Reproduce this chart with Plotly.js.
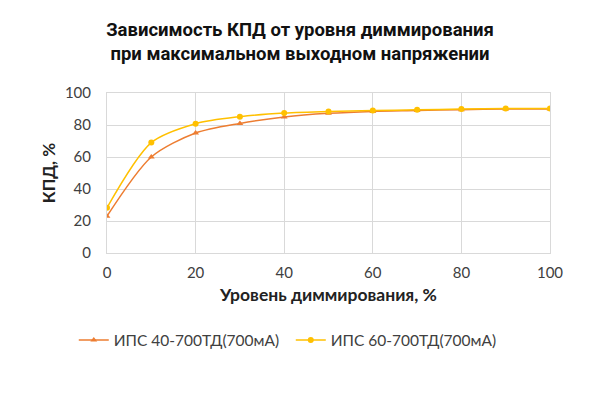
<!DOCTYPE html>
<html>
<head>
<meta charset="utf-8">
<script src="https://cdn.plot.ly/plotly-3.0.1.min.js"></script>
<style>
  html, body { margin: 0; padding: 0; background: #fff; }
  #chart { width: 600px; height: 400px; }
</style>
</head>
<body>
<div id="chart"></div>
<script>
// уровень диммирования, %
const dimLevels = [0, 10, 20, 30, 40, 50, 60, 70, 80, 90, 100];
// КПД, %
const effIps40 = [23, 60, 75, 81, 85, 87.3, 88.5, 89, 89.6, 90, 90];
const effIps60 = [28.3, 69, 80.8, 85.2, 87.5, 88.5, 89, 89.5, 90, 90.3, 90.3];
const seriesNames = ["ИПС 40-700ТД(700мА)", "ИПС 60-700ТД(700мА)"];
const xTicks = [0, 20, 40, 60, 80, 100];
const yTicks = [0, 20, 40, 60, 80, 100];

const tickFont = { family: "Lato, 'Open Sans', sans-serif", size: 15, color: "#404040" };

const traces = [
  {
    x: dimLevels, y: effIps40, name: seriesNames[0],
    type: "scatter", mode: "lines+markers",
    line: { color: "#ED7D31", width: 1.5, shape: "spline", smoothing: 0.8 },
    marker: { symbol: "triangle-up", size: 6, color: "#ED7D31" }
  },
  {
    x: dimLevels, y: effIps60, name: seriesNames[1],
    type: "scatter", mode: "lines+markers",
    line: { color: "#FFC000", width: 1.5, shape: "spline", smoothing: 0.8 },
    marker: { symbol: "circle", size: 6, color: "#FFC000" }
  }
];

const layout = {
  width: 600, height: 400,
  paper_bgcolor: "#fff", plot_bgcolor: "#fff",
  margin: { l: 107, r: 50, t: 93, b: 147 },
  title: {
    text: "Зависимость КПД от уровня диммирования<br>при максимальном выходном напряжении",
    font: { family: "Roboto, sans-serif", size: 18.5, color: "#111", weight: "bold" },
    x: 0.5, xanchor: "center", yref: "container", y: 0.91, yanchor: "top"
  },
  xaxis: {
    range: [0, 100], tickvals: xTicks, ticktext: xTicks.map(String),
    showgrid: true, gridcolor: "#d9d9d9", gridwidth: 1,
    showline: true, linecolor: "#d9d9d9", mirror: true,
    zeroline: false, ticks: "outside", ticklen: 6, tickcolor: "rgba(0,0,0,0)",
    tickfont: tickFont,
    title: { text: "Уровень диммирования, %", standoff: 8,
      font: { family: "Lato, 'Open Sans', sans-serif", size: 17.5, color: "#222", weight: "bold" } }
  },
  yaxis: {
    range: [0, 100], tickvals: yTicks, ticktext: yTicks.map(String),
    showgrid: true, gridcolor: "#d9d9d9", gridwidth: 1,
    showline: true, linecolor: "#d9d9d9", mirror: true,
    zeroline: false, ticks: "outside", ticklen: 12, tickcolor: "rgba(0,0,0,0)",
    tickfont: tickFont,
    title: { text: "КПД, %", standoff: 4,
      font: { family: "Lato, 'Open Sans', sans-serif", size: 17, color: "#222", weight: "bold" } }
  },
  showlegend: true,
  legend: {
    orientation: "h", xref: "paper", x: -0.075, xanchor: "left", y: -0.44, yanchor: "top",
    font: { family: "Lato, 'Open Sans', sans-serif", size: 15.5, color: "#404040" },
    entrywidth: 172, entrywidthmode: "pixels"
  }
};

Plotly.newPlot("chart", traces, layout, { displayModeBar: false, staticPlot: true });
</script>
</body>
</html>
